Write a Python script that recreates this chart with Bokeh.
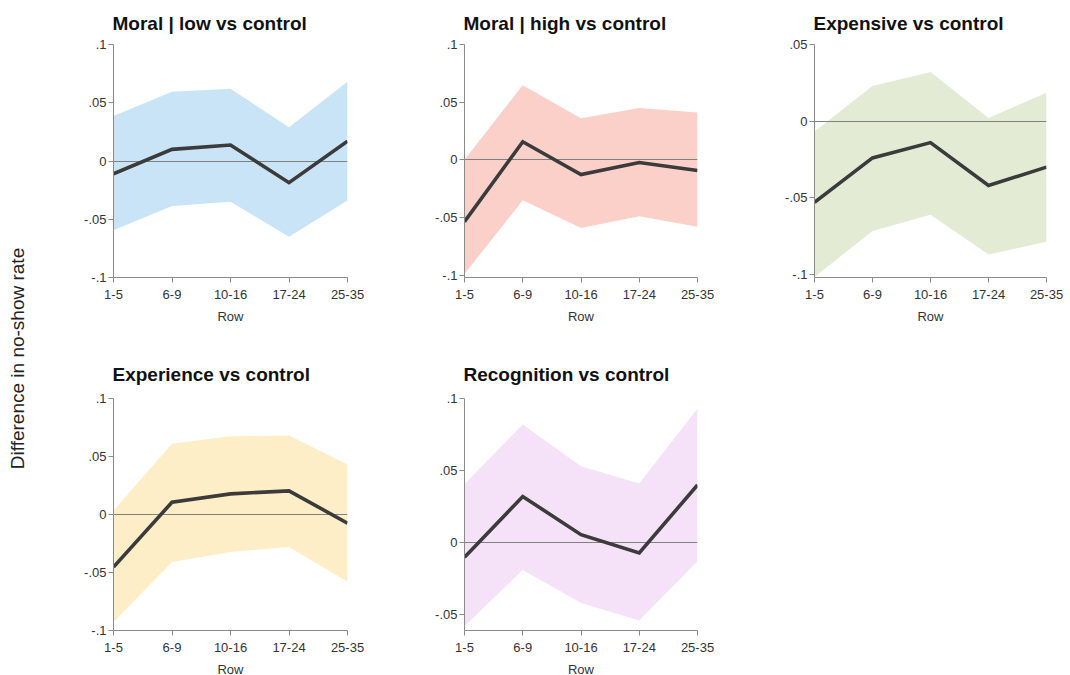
import numpy as np
from bokeh.plotting import figure
from bokeh.layouts import row, column
from bokeh.models import FixedTicker, Range1d, CustomJSTickFormatter, Label
from bokeh.embed import file_html
from bokeh.resources import INLINE

# ---------------- data ----------------
row_groups = ["1-5", "6-9", "10-16", "17-24", "25-35"]

titles = ["Moral | low vs control", "Moral | high vs control", "Expensive vs control",
          "Experience vs control", "Recognition vs control"]

moral_low_est = [-0.011, 0.010, 0.0137, -0.0186, 0.017]
moral_low_hi = [0.0386, 0.0595, 0.062, 0.029, 0.068]
moral_low_lo = [-0.0595, -0.0386, -0.035, -0.065, -0.034]

moral_high_est = [-0.0536, 0.0157, -0.0128, -0.0023, -0.0093]
moral_high_hi = [0.0, 0.0647, 0.036, 0.045, 0.041]
moral_high_lo = [-0.099, -0.035, -0.059, -0.049, -0.058]

expensive_est = [-0.053, -0.024, -0.014, -0.042, -0.030]
expensive_hi = [-0.0068, 0.023, 0.032, 0.002, 0.0185]
expensive_lo = [-0.1017, -0.0716, -0.061, -0.087, -0.0786]

experience_est = [-0.0453, 0.0106, 0.0178, 0.0204, -0.0075]
experience_hi = [0.0034, 0.061, 0.0674, 0.068, 0.043]
experience_lo = [-0.0927, -0.041, -0.0324, -0.028, -0.058]

recognition_est = [-0.0102, 0.032, 0.0055, -0.0072, 0.040]
recognition_hi = [0.0406, 0.082, 0.053, 0.041, 0.093]
recognition_lo = [-0.058, -0.019, -0.042, -0.054, -0.013]

y_ranges = [(-0.1, 0.1), (-0.102, 0.1), (-0.102, 0.05), (-0.1, 0.1), (-0.061, 0.1)]
y_ticks = [[-0.1, -0.05, 0, 0.05, 0.1], [-0.1, -0.05, 0, 0.05, 0.1], [-0.1, -0.05, 0, 0.05],
           [-0.1, -0.05, 0, 0.05, 0.1], [-0.05, 0, 0.05, 0.1]]

fills = ["#c9e4f6", "#fad0c9", "#e3ebd5", "#fdeec7", "#f6e2f8"]

series = [
    (moral_low_est, moral_low_lo, moral_low_hi),
    (moral_high_est, moral_high_lo, moral_high_hi),
    (expensive_est, expensive_lo, expensive_hi),
    (experience_est, experience_lo, experience_hi),
    (recognition_est, recognition_lo, recognition_hi),
]

FONT = "Liberation Sans"
x_idx = list(range(len(row_groups)))

y_fmt = CustomJSTickFormatter(code="""
if (Math.abs(tick) < 1e-9) { return "0"; }
const s = (Math.round(tick * 100) / 100).toString();
return s.replace("0.", ".");
""")
x_fmt = CustomJSTickFormatter(args=dict(labels=row_groups),
                              code="return labels[Math.round(tick)];")


def make_panel(i, frame_w, frame_h, left, right, top, bottom, standoff):
    est, lo, hi = series[i]
    p = figure(frame_width=frame_w, frame_height=frame_h,
               x_range=Range1d(0, len(row_groups) - 1), y_range=Range1d(*y_ranges[i]),
               output_backend="svg", toolbar_location=None,
               min_border_left=left, min_border_right=right,
               min_border_top=top, min_border_bottom=bottom,
               title=titles[i])
    p.outline_line_color = None
    p.grid.visible = False
    p.background_fill_color = "white"
    p.border_fill_color = "white"

    p.title.text_font = FONT
    p.title.text_font_size = "19px"
    p.title.text_font_style = "bold"
    p.title.text_color = "#111111"
    p.title.align = "left"
    p.title.standoff = standoff
    p.title.offset = -1

    p.varea(x=x_idx, y1=lo, y2=hi, fill_color=fills[i], fill_alpha=1.0)
    p.hspan(y=[0], line_color="#808080", line_width=1.2)
    p.line(x=x_idx, y=est, line_color="#3b3b3b", line_width=3.6, line_join="miter")

    for ax in (p.xaxis[0], p.yaxis[0]):
        ax.axis_line_color = "#8a8a8a"
        ax.major_tick_line_color = "#8a8a8a"
        ax.major_tick_out = 5
        ax.major_tick_in = 0
        ax.minor_tick_line_color = None
        ax.major_label_text_font = FONT
        ax.major_label_text_font_size = "13px"
        ax.major_label_text_color = "#333333"
        ax.axis_label_text_font = FONT
        ax.axis_label_text_font_size = "13px"
        ax.axis_label_text_font_style = "normal"
        ax.axis_label_text_color = "#333333"

    p.xaxis.ticker = FixedTicker(ticks=x_idx)
    p.xaxis.formatter = x_fmt
    p.xaxis.major_label_standoff = 7
    p.xaxis.axis_label = "Row"
    p.xaxis.axis_label_standoff = 7

    p.yaxis.ticker = FixedTicker(ticks=y_ticks[i])
    p.yaxis.formatter = y_fmt
    p.yaxis.major_label_standoff = 2
    p.yaxis.major_label_orientation = "horizontal"
    return p


TOP_H = 340
BOT_H = 335

p1 = make_panel(0, 234, 233, 65, 52, 44, 63, 21)
p2 = make_panel(1, 233, 233, 65, 52, 44, 63, 21)
p3 = make_panel(2, 232, 233, 65, 20, 44, 63, 21)
p4 = make_panel(3, 234, 232, 65, 52, 58, 45, 27)
p5 = make_panel(4, 233, 232, 65, 52, 58, 45, 27)

lab = figure(width=48, height=TOP_H + BOT_H, x_range=Range1d(0, 48),
             y_range=Range1d(0, TOP_H + BOT_H), x_axis_location=None, y_axis_location=None,
             output_backend="svg", toolbar_location=None, min_border=0)
lab.outline_line_color = None
lab.grid.visible = False
lab.add_layout(Label(x=17, y=TOP_H + BOT_H - 358, x_units="screen", y_units="screen",
                     text="Difference in no-show rate", angle=np.pi / 2,
                     text_align="center", text_baseline="middle",
                     text_font=FONT, text_font_size="19px", text_color="#222222"))

layout = row(lab, column(row(p1, p2, p3), row(p4, p5)))

open("out.html", "w").write(file_html(layout, INLINE))
